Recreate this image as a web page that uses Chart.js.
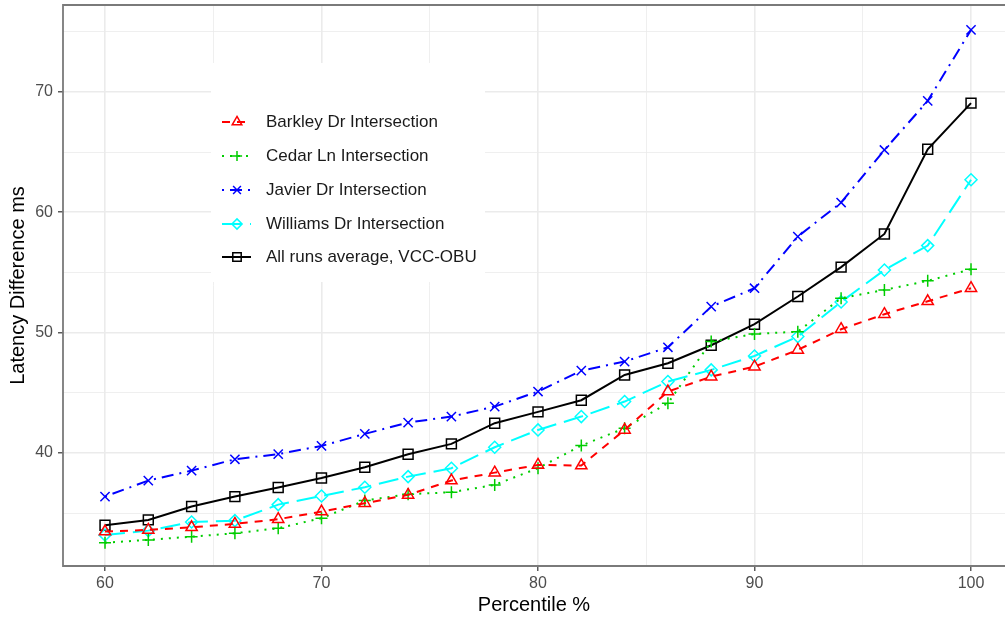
<!DOCTYPE html>
<html lang="en">
<head>
    <meta charset="UTF-8">
    <title>Latency Difference by Percentile</title>
    <script src="https://cdn.jsdelivr.net/npm/chart.js"></script>
    <style>
        html, body { margin: 0; padding: 0; background: #fff; }
        #wrap { width: 1005px; height: 618px; }
    </style>
</head>
<body>
    <div id="wrap"><canvas id="latencyChart" width="1005" height="618"></canvas></div>

    <script>
        // data
        const percentiles = [60, 62, 64, 66, 68, 70, 72, 74, 76, 78, 80, 82, 84, 86, 88, 90, 92, 94, 96, 98, 100];
        const barkley  = [33.46, 33.60, 33.82, 34.10, 34.49, 35.12, 35.82, 36.51, 37.70, 38.36, 39.00, 38.95, 41.91, 45.10, 46.34, 47.17, 48.56, 50.28, 51.53, 52.60, 53.69];
        const cedar    = [32.54, 32.77, 33.04, 33.32, 33.74, 34.57, 36.04, 36.57, 36.73, 37.34, 38.73, 40.61, 42.05, 44.13, 49.25, 49.89, 50.08, 52.86, 53.55, 54.30, 55.27];
        const javier   = [36.37, 37.70, 38.53, 39.47, 39.90, 40.58, 41.58, 42.52, 43.02, 43.85, 45.10, 46.84, 47.59, 48.78, 52.16, 53.69, 57.98, 60.81, 65.18, 69.26, 75.16];
        const williams = [33.18, 33.54, 34.26, 34.37, 35.70, 36.42, 37.15, 38.03, 38.73, 40.47, 41.91, 43.02, 44.27, 45.93, 46.90, 48.06, 49.67, 52.55, 55.20, 57.23, 62.70];
        const allRuns  = [33.99, 34.43, 35.54, 36.37, 37.12, 37.92, 38.81, 39.89, 40.75, 42.47, 43.41, 44.38, 46.48, 47.45, 48.95, 50.70, 53.00, 55.44, 58.20, 65.24, 69.07];

        const seriesNames = ['Barkley Dr Intersection', 'Cedar Ln Intersection', 'Javier Dr Intersection', 'Williams Dr Intersection', 'All runs average, VCC-OBU'];

        const xTickLabels = [60, 70, 80, 90, 100];
        const xMinorGrid = [65, 75, 85, 95];
        const yTickLabels = [40, 50, 60, 70];
        const yMinorGrid = [35, 45, 55, 65, 75];

        const FONT = '"Liberation Sans", Arial, Helvetica, sans-serif';

        function toPoints(vals) {
            return percentiles.map((p, i) => ({ x: p, y: vals[i] }));
        }

        function makeSet(label, vals, color, dash, style, radius) {
            return {
                label: label,
                data: toPoints(vals),
                borderColor: color,
                backgroundColor: 'rgba(0,0,0,0)',
                borderWidth: 2,
                borderDash: dash,
                pointStyle: style,
                pointRadius: radius,
                pointBorderWidth: 1.5,
                pointBorderColor: color,
                pointBackgroundColor: 'rgba(0,0,0,0)',
                tension: 0,
                fill: false
            };
        }

        const datasets = [
            makeSet(seriesNames[0], barkley,  '#FF0000', [8, 7],         'triangle', 6.5),
            makeSet(seriesNames[1], cedar,    '#00CD00', [2, 6],         'cross',    6),
            makeSet(seriesNames[2], javier,   '#0000FF', [2, 6, 12, 6],  'crossRot', 6.5),
            makeSet(seriesNames[3], williams, '#00FFFF', [20, 8],        'rectRot',  6),
            makeSet(seriesNames[4], allRuns,  '#000000', [],             'rect',     7)
        ];

        function isMajor(list, v) {
            return list.indexOf(v) !== -1;
        }

        // panel border: top, left, bottom (the right edge is cropped off in the original)
        const panelBorder = {
            id: 'panelBorder',
            afterDraw(chart) {
                const a = chart.chartArea;
                const ctx = chart.ctx;
                ctx.save();
                ctx.strokeStyle = '#7a7a7a';
                ctx.lineWidth = 1.8;
                ctx.beginPath();
                ctx.moveTo(chart.width + 2, a.top);
                ctx.lineTo(a.left, a.top);
                ctx.lineTo(a.left, a.bottom);
                ctx.lineTo(chart.width + 2, a.bottom);
                ctx.stroke();
                ctx.restore();
            }
        };

        // ggplot style legend drawn inside the panel
        const insetLegend = {
            id: 'insetLegend',
            afterDraw(chart) {
                const ctx = chart.ctx;
                const box = { left: 211, top: 63, right: 485, bottom: 282 };
                ctx.save();
                ctx.fillStyle = '#ffffff';
                ctx.fillRect(box.left, box.top, box.right - box.left, box.bottom - box.top);
                const rowY = [122, 156, 190, 224, 257];
                chart.data.datasets.forEach((ds, i) => {
                    const y = rowY[i];
                    ctx.strokeStyle = ds.borderColor;
                    ctx.lineWidth = 2;
                    ctx.setLineDash(ds.borderDash);
                    ctx.beginPath();
                    ctx.moveTo(222, y);
                    ctx.lineTo(251, y);
                    ctx.stroke();
                    ctx.setLineDash([]);
                    ctx.fillStyle = 'rgba(0,0,0,0)';
                    ctx.lineWidth = 1.5;
                    Chart.helpers.drawPoint(ctx, {
                        pointStyle: ds.pointStyle,
                        radius: ds.pointRadius * 0.85,
                        rotation: 0,
                        borderWidth: 1.5
                    }, 237, y);
                    ctx.fillStyle = '#1a1a1a';
                    ctx.font = '17px ' + FONT;
                    ctx.textBaseline = 'middle';
                    ctx.textAlign = 'left';
                    ctx.fillText(ds.label, 266, y);
                });
                ctx.restore();
            }
        };

        const ctx = document.getElementById('latencyChart').getContext('2d');
        const latencyChart = new Chart(ctx, {
            type: 'line',
            data: { datasets: datasets },
            options: {
                responsive: false,
                animation: false,
                layout: { autoPadding: false, padding: { left: 0, top: 5, right: 0, bottom: 0 } },
                plugins: {
                    legend: { display: false },
                    tooltip: { enabled: false }
                },
                scales: {
                    x: {
                        type: 'linear',
                        min: 58.06,
                        max: 101.57,
                        afterBuildTicks: s => {
                            s.ticks = xTickLabels.concat(xMinorGrid).sort((a, b) => a - b).map(v => ({ value: v }));
                        },
                        afterFit: s => {
                            s.height = 52;
                            s.paddingLeft = 0;
                            s.paddingRight = 0;
                        },
                        ticks: {
                            autoSkip: false,
                            maxRotation: 0,
                            padding: 3,
                            color: '#4D4D4D',
                            font: { family: FONT, size: 16 },
                            callback: v => isMajor(xTickLabels, v) ? String(v) : ''
                        },
                        grid: {
                            color: '#EBEBEB',
                            lineWidth: c => isMajor(xTickLabels, c.tick.value) ? 1.6 : 0.8,
                            tickColor: c => isMajor(xTickLabels, c.tick.value) ? '#333333' : 'rgba(0,0,0,0)',
                            tickLength: 5,
                            tickWidth: 1.2
                        },
                        border: { display: false },
                        title: {
                            display: true,
                            text: 'Percentile %',
                            color: '#000000',
                            font: { family: FONT, size: 20 },
                            padding: { top: 0, bottom: 1 }
                        }
                    },
                    y: {
                        type: 'linear',
                        min: 30.6,
                        max: 77.23,
                        afterBuildTicks: s => {
                            s.ticks = yTickLabels.concat(yMinorGrid).sort((a, b) => a - b).map(v => ({ value: v }));
                        },
                        afterFit: s => {
                            s.width = 63;
                            s.paddingTop = 0;
                            s.paddingBottom = 0;
                        },
                        ticks: {
                            autoSkip: false,
                            padding: 5,
                            color: '#4D4D4D',
                            font: { family: FONT, size: 16 },
                            callback: v => isMajor(yTickLabels, v) ? String(v) : ''
                        },
                        grid: {
                            color: '#EBEBEB',
                            lineWidth: c => isMajor(yTickLabels, c.tick.value) ? 1.6 : 0.8,
                            tickColor: c => isMajor(yTickLabels, c.tick.value) ? '#333333' : 'rgba(0,0,0,0)',
                            tickLength: 5,
                            tickWidth: 1.2
                        },
                        border: { display: false },
                        title: {
                            display: true,
                            text: 'Latency Difference ms',
                            color: '#000000',
                            font: { family: FONT, size: 20 },
                            padding: { top: 6, bottom: 0 }
                        }
                    }
                }
            },
            plugins: [panelBorder, insetLegend]
        });
    </script>
</body>
</html>
